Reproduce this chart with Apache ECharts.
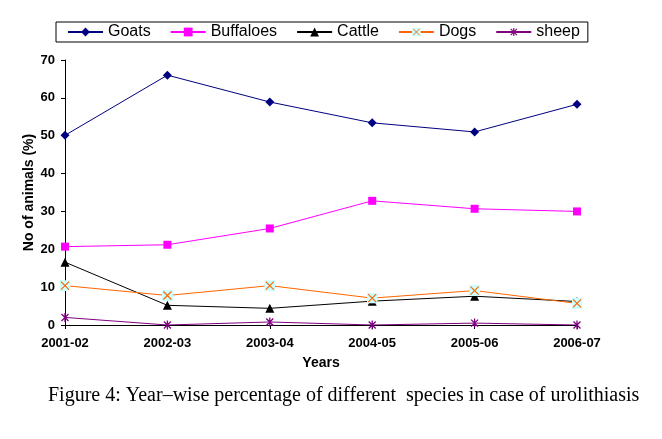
<!DOCTYPE html>
<html>
<head>
<meta charset="utf-8">
<script src="https://cdn.jsdelivr.net/npm/echarts@6/dist/echarts.min.js"></script>
<style>
	html, body { margin: 0; padding: 0; background: #ffffff; }
	#chart { width: 662px; height: 439px; }
</style>
</head>
<body>
<div id="chart"></div>
<script>
var years = ['2001-02', '2002-03', '2003-04', '2004-05', '2005-06', '2006-07'];
var goats = [50.1, 66.0, 58.9, 53.4, 51.0, 58.3];
var buffaloes = [20.7, 21.2, 25.5, 32.8, 30.7, 30.0];
var cattle = [16.6, 5.2, 4.4, 6.3, 7.6, 6.2];
var dogs = [10.4, 7.8, 10.4, 7.1, 9.1, 5.7];
var sheep = [2.0, 0, 0.8, 0, 0.5, 0];

function svgSymbol(svg) {
	return 'image://data:image/svg+xml;charset=utf-8,' + encodeURIComponent(svg);
}

// cyan box with orange cross, as in the original
var dogMark = svgSymbol("<svg xmlns='http://www.w3.org/2000/svg' width='11' height='11'>"
	+ "<rect width='11' height='11' fill='#CCFFFF'/>"
	+ "<path d='M1.5 1.5L9.5 9.5M9.5 1.5L1.5 9.5' stroke='#FF6600' stroke-width='1.2'/></svg>");
// purple asterisk
var sheepMark = svgSymbol("<svg xmlns='http://www.w3.org/2000/svg' width='10' height='10'>"
	+ "<path d='M1.5 1.5L8.5 8.5M8.5 1.5L1.5 8.5M5 0.5V9.5' stroke='#800080' stroke-width='1.3'/></svg>");

function makeLine(name, data, color, symbol, size) {
	return {
		name: name,
		type: 'line',
		data: data,
		symbol: symbol,
		symbolSize: size,
		showAllSymbol: true,
		lineStyle: { color: color, width: 1 },
		itemStyle: { color: color, borderWidth: 0 },
		emphasis: { disabled: true },
		animation: false
	};
}

var myChart = echarts.init(document.getElementById('chart'));

var option = {
	backgroundColor: '#ffffff',
	grid: {
		left: 65,
		right: 85,
		top: 60,
		bottom: 114
	},

	title: {
		text: 'Figure 4: Year\u2013wise percentage of different  species in case of urolithiasis',
		left: 48,
		top: 386,
		padding: 0,
		textStyle: {
			fontFamily: '"Liberation Serif", serif',
			fontSize: 20,
			fontWeight: 'normal',
			color: '#000'
		}
	},

	legend: {
		left: 56,
		top: 22,
		orient: 'horizontal',
		padding: [2, 8, 2, 11],
		itemGap: 19,
		itemWidth: 35,
		itemHeight: 11,
		backgroundColor: '#ffffff',
		borderColor: '#000000',
		borderWidth: 1,
		borderRadius: 0,
		textStyle: {
			fontFamily: '"Liberation Sans", Arial, sans-serif',
			fontSize: 16,
			color: '#000'
		},
		data: ['Goats', 'Buffaloes', 'Cattle', 'Dogs', 'sheep']
	},

	xAxis: {
		type: 'category',
		data: years,
		boundaryGap: false,
		name: 'Years',
		nameLocation: 'middle',
		nameGap: 31,
		nameMoveOverlap: false,
		nameTextStyle: {
			fontFamily: '"Liberation Sans", Arial, sans-serif',
			fontSize: 14,
			fontWeight: 'bold',
			color: '#000'
		},
		axisLine: { lineStyle: { color: '#000', width: 1 } },
		axisTick: { show: true, length: 4, lineStyle: { color: '#000' } },
		axisLabel: {
			margin: 12,
			fontFamily: '"Liberation Sans", Arial, sans-serif',
			fontSize: 13,
			fontWeight: 'bold',
			color: '#000'
		},
		splitLine: { show: false }
	},

	yAxis: {
		type: 'value',
		min: 0,
		max: 70,
		interval: 10,
		name: 'No of animals (%)',
		nameLocation: 'middle',
		nameGap: 29,
		nameMoveOverlap: false,
		nameTextStyle: {
			fontFamily: '"Liberation Sans", Arial, sans-serif',
			fontSize: 14,
			fontWeight: 'bold',
			color: '#000'
		},
		axisLine: { show: true, lineStyle: { color: '#000', width: 1 } },
		axisTick: { show: true, length: 4, lineStyle: { color: '#000' } },
		axisLabel: {
			margin: 10,
			fontFamily: '"Liberation Sans", Arial, sans-serif',
			fontSize: 13,
			fontWeight: 'bold',
			color: '#000'
		},
		splitLine: { show: false }
	},

	series: [
		makeLine('Goats', goats, '#000080', 'diamond', 9),
		makeLine('Buffaloes', buffaloes, '#FF00FF', 'rect', 8),
		makeLine('Cattle', cattle, '#000000', 'triangle', 9),
		makeLine('Dogs', dogs, '#FF6600', dogMark, 11),
		makeLine('sheep', sheep, '#800080', sheepMark, 10)
	]
};

myChart.setOption(option);
</script>
</body>
</html>
